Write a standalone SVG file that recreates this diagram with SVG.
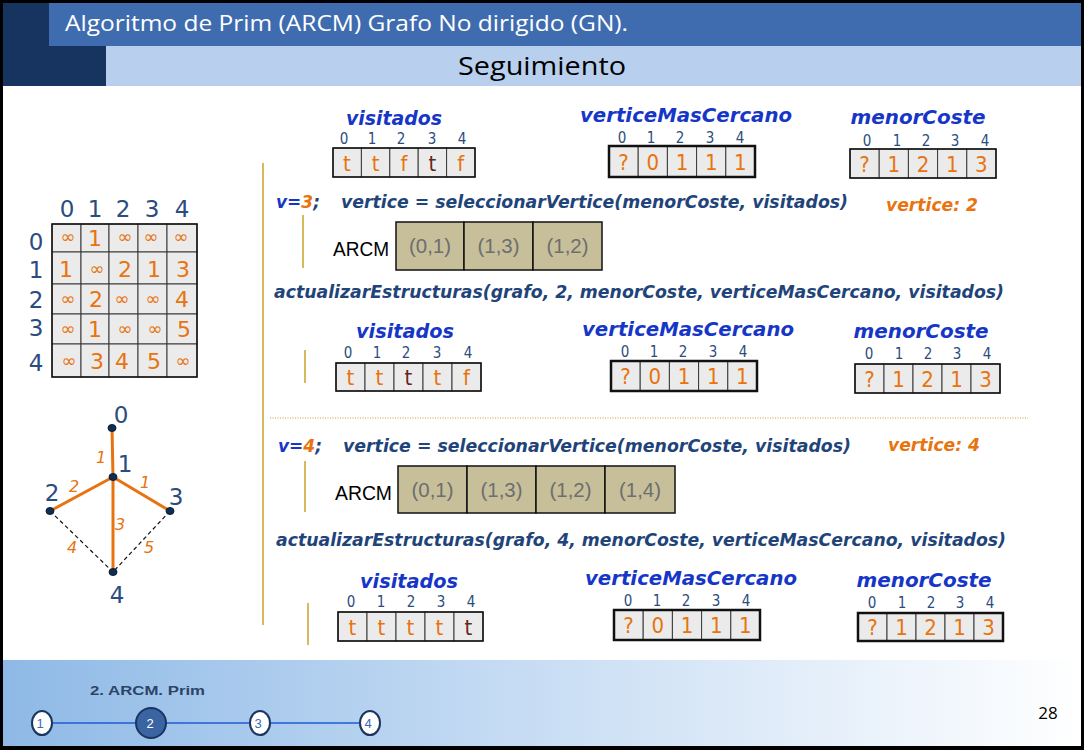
<svg xmlns="http://www.w3.org/2000/svg" width="1084" height="750" viewBox="0 0 1084 750">
<defs>
<linearGradient id="foot" x1="0" y1="0" x2="1" y2="0">
<stop offset="0" stop-color="#8EB9E6"/>
<stop offset="0.45" stop-color="#C3DAF3"/>
<stop offset="1" stop-color="#FFFFFF"/>
</linearGradient>
<style>
.hdr{font-family:"Open Sans","Liberation Sans",sans-serif}
.ttl{font-family:"DejaVu Sans",sans-serif;font-weight:bold;font-style:italic;fill:#1636C8;font-size:20px;text-anchor:middle}
.code{font-family:"DejaVu Sans",sans-serif;font-weight:bold;font-style:italic;fill:#1F4479;font-size:17px}
.vo{font-family:"DejaVu Sans",sans-serif;font-weight:bold;font-style:italic;fill:#E8730F;font-size:17px}
.idx{font-family:"DejaVu Sans Condensed","DejaVu Sans",sans-serif;font-stretch:condensed;fill:#2B4C7E;font-size:15px;text-anchor:middle}
.val{font-family:"DejaVu Sans Condensed","DejaVu Sans",sans-serif;font-stretch:condensed;fill:#E8730F;font-size:22px;text-anchor:middle}
.dk{fill:#6A2418}
.cell{fill:#EBEBEB;stroke:#3A3A3A;stroke-width:1}
.out{fill:none;stroke:#111;stroke-width:1.5}
.out2{fill:none;stroke:#111;stroke-width:2.5}
.arc{fill:#C6BF9A;stroke:#111;stroke-width:1.5}
.arct{font-family:"Liberation Sans",sans-serif;fill:#6E6E6E;font-size:21px;text-anchor:middle}
.arcl{font-family:"Liberation Sans",sans-serif;fill:#000;font-size:21px}
.gold{stroke:#C9A227;stroke-width:1.5;fill:none}
.mh{font-family:"DejaVu Sans",sans-serif;fill:#2B4C7E;font-size:23px;text-anchor:middle}
.mv{font-family:"DejaVu Sans",sans-serif;fill:#E8730F;font-size:22px;text-anchor:middle}
.inf{font-family:"DejaVu Sans",sans-serif;fill:#E8730F;font-size:18px;text-anchor:middle}
.nd{fill:#0F2E50;stroke:#0A1E36;stroke-width:1}
.oe{stroke:#E8730F;stroke-width:3;fill:none}
.de{stroke:#111;stroke-width:1.2;stroke-dasharray:4 3;fill:none}
.nl{font-family:"DejaVu Sans",sans-serif;fill:#2B4C7E;font-size:23px;text-anchor:middle}
.wl{font-family:"DejaVu Sans",sans-serif;font-style:italic;fill:#E8730F;font-size:16px;text-anchor:middle}
</style>
</defs>

<!-- frame -->
<rect x="0" y="0" width="1084" height="750" fill="#000"/>
<rect x="3" y="3" width="1078" height="743" fill="#FFFFFF"/>

<!-- header -->
<g id="header">
<rect x="3" y="3" width="103" height="83" fill="#17335F"/>
<rect x="49" y="3" width="1032" height="43" fill="#3F6CAF"/>
<rect x="106" y="46" width="975" height="40" fill="#B9CFEE"/>
<text class="hdr" x="65" y="31" font-size="21" fill="#FFFFFF" textLength="563" lengthAdjust="spacingAndGlyphs">Algoritmo de Prim (ARCM) Grafo No dirigido (GN).</text>
<text class="hdr" x="458" y="75" font-size="26" fill="#000" textLength="168" lengthAdjust="spacingAndGlyphs">Seguimiento</text>
</g>

<!-- footer -->
<g id="footer">
<rect x="3" y="660" width="1078" height="86" fill="url(#foot)"/>
<text x="90" y="695" font-family="Liberation Sans, sans-serif" font-weight="bold" font-size="13" fill="#2B4468" textLength="115" lengthAdjust="spacingAndGlyphs">2. ARCM. Prim</text>
<line x1="42" y1="723" x2="370" y2="723" stroke="#1E5BD6" stroke-width="1.5"/>
<ellipse cx="42" cy="723" rx="10" ry="12" fill="#FFF" stroke="#1A3560" stroke-width="2"/>
<ellipse cx="151" cy="723" rx="15" ry="15" fill="#3B64A3" stroke="#1A3560" stroke-width="2"/>
<ellipse cx="260" cy="723" rx="10" ry="12" fill="#FFF" stroke="#1A3560" stroke-width="2"/>
<ellipse cx="370" cy="723" rx="10" ry="12" fill="#FFF" stroke="#1A3560" stroke-width="2"/>
<text x="40" y="728" font-family="Liberation Sans, sans-serif" font-size="13" fill="#3A6AB8" text-anchor="middle">1</text>
<text x="150" y="728" font-family="Liberation Sans, sans-serif" font-size="13" fill="#FFF" text-anchor="middle">2</text>
<text x="258" y="728" font-family="Liberation Sans, sans-serif" font-size="13" fill="#3A6AB8" text-anchor="middle">3</text>
<text x="368" y="728" font-family="Liberation Sans, sans-serif" font-size="13" fill="#3A6AB8" text-anchor="middle">4</text>
<text x="1048" y="719" font-family="Open Sans, Liberation Sans, sans-serif" font-size="17" fill="#000" text-anchor="middle">28</text>
</g>

<!-- matrix -->
<g id="matrix">
<text class="mh" x="67" y="217">0</text><text class="mh" x="95" y="217">1</text><text class="mh" x="123" y="217">2</text><text class="mh" x="152" y="217">3</text><text class="mh" x="182" y="217">4</text>
<text class="mh" x="36" y="250">0</text><text class="mh" x="36" y="278">1</text><text class="mh" x="36" y="308">2</text><text class="mh" x="36" y="336">3</text><text class="mh" x="36" y="371">4</text>
<g>
<rect class="cell" x="52" y="224" width="29" height="28"/><rect class="cell" x="81" y="224" width="28" height="28"/><rect class="cell" x="109" y="224" width="29" height="28"/><rect class="cell" x="138" y="224" width="29" height="28"/><rect class="cell" x="167" y="224" width="30" height="28"/>
<rect class="cell" x="52" y="252" width="29" height="32"/><rect class="cell" x="81" y="252" width="28" height="32"/><rect class="cell" x="109" y="252" width="29" height="32"/><rect class="cell" x="138" y="252" width="29" height="32"/><rect class="cell" x="167" y="252" width="30" height="32"/>
<rect class="cell" x="52" y="284" width="29" height="30"/><rect class="cell" x="81" y="284" width="28" height="30"/><rect class="cell" x="109" y="284" width="29" height="30"/><rect class="cell" x="138" y="284" width="29" height="30"/><rect class="cell" x="167" y="284" width="30" height="30"/>
<rect class="cell" x="52" y="314" width="29" height="30"/><rect class="cell" x="81" y="314" width="28" height="30"/><rect class="cell" x="109" y="314" width="29" height="30"/><rect class="cell" x="138" y="314" width="29" height="30"/><rect class="cell" x="167" y="314" width="30" height="30"/>
<rect class="cell" x="52" y="344" width="29" height="33"/><rect class="cell" x="81" y="344" width="28" height="33"/><rect class="cell" x="109" y="344" width="29" height="33"/><rect class="cell" x="138" y="344" width="29" height="33"/><rect class="cell" x="167" y="344" width="30" height="33"/>
<rect x="52" y="224" width="145" height="153" fill="none" stroke="#111" stroke-width="1.5"/>
</g>
<text class="inf" x="68" y="243">∞</text><text class="mv" x="95" y="246">1</text><text class="inf" x="125" y="243">∞</text><text class="inf" x="151" y="243">∞</text><text class="inf" x="181" y="243">∞</text>
<text class="mv" x="66" y="277">1</text><text class="inf" x="97" y="275">∞</text><text class="mv" x="125" y="277">2</text><text class="mv" x="154" y="277">1</text><text class="mv" x="183" y="277">3</text>
<text class="inf" x="68" y="305">∞</text><text class="mv" x="96" y="307">2</text><text class="inf" x="122" y="305">∞</text><text class="inf" x="153" y="305">∞</text><text class="mv" x="182" y="307">4</text>
<text class="inf" x="68" y="335">∞</text><text class="mv" x="95" y="337">1</text><text class="inf" x="125" y="335">∞</text><text class="inf" x="155" y="335">∞</text><text class="mv" x="184" y="337">5</text>
<text class="inf" x="69" y="367">∞</text><text class="mv" x="97" y="369">3</text><text class="mv" x="122" y="369">4</text><text class="mv" x="154" y="369">5</text><text class="inf" x="183" y="367">∞</text>
</g>

<!-- graph -->
<g id="graph-edges">
<line class="oe" x1="112" y1="428" x2="113" y2="477"/>
<line class="oe" x1="113" y1="477" x2="50" y2="511"/>
<line class="oe" x1="113" y1="477" x2="170" y2="511"/>
<line class="oe" x1="113" y1="477" x2="113" y2="572"/>
<line class="de" x1="50" y1="511" x2="113" y2="572"/>
<line class="de" x1="170" y1="511" x2="113" y2="572"/>
<text class="wl" x="101" y="463">1</text>
<text class="wl" x="74" y="492">2</text>
<text class="wl" x="145" y="488">1</text>
<text class="wl" x="120" y="530">3</text>
<text class="wl" x="72" y="553">4</text>
<text class="wl" x="149" y="553">5</text>
</g>
<g id="node-0"><ellipse class="nd" cx="112" cy="428" rx="4" ry="3.5"/><text class="nl" x="121" y="423">0</text></g>
<g id="node-1"><ellipse class="nd" cx="113" cy="477" rx="4" ry="3.5"/><text class="nl" x="125" y="472">1</text></g>
<g id="node-2"><ellipse class="nd" cx="50" cy="511" rx="4" ry="3.5"/><text class="nl" x="52" y="501">2</text></g>
<g id="node-3"><ellipse class="nd" cx="170" cy="511" rx="4" ry="3.5"/><text class="nl" x="176" y="505">3</text></g>
<g id="node-4"><ellipse class="nd" cx="113" cy="572" rx="4" ry="3.5"/><text class="nl" x="117" y="603">4</text></g>

<!-- separators -->
<g id="separators">
<line class="gold" x1="263" y1="163" x2="263" y2="625"/>
<line class="gold" x1="303" y1="215" x2="303" y2="268"/>
<line class="gold" x1="305" y1="350" x2="305" y2="383"/>
<line class="gold" x1="305" y1="461" x2="305" y2="512"/>
<line class="gold" x1="308" y1="603" x2="308" y2="645"/>
<line x1="270" y1="418" x2="1028" y2="418" stroke="#C9A227" stroke-width="1.2" stroke-dasharray="1 1.5"/>
</g>

<!-- top arrays -->
<g id="visitados-1">
<text class="ttl" x="394" y="125" textLength="96" lengthAdjust="spacingAndGlyphs">visitados</text>
<text class="idx" x="344" y="144">0</text><text class="idx" x="372" y="144">1</text><text class="idx" x="401" y="144">2</text><text class="idx" x="432" y="144">3</text><text class="idx" x="462" y="144">4</text>
<rect class="cell" x="333" y="148" width="28.4" height="29"/><rect class="cell" x="361.4" y="148" width="28.4" height="29"/><rect class="cell" x="389.8" y="148" width="28.4" height="29"/><rect class="cell" x="418.2" y="148" width="28.4" height="29"/><rect class="cell" x="446.6" y="148" width="28.4" height="29"/>
<rect class="out" x="333" y="148" width="142" height="29"/>
<text class="val" x="347" y="171">t</text><text class="val" x="375.6" y="171">t</text><text class="val" x="404" y="171">f</text><text class="val dk" x="432.4" y="171">t</text><text class="val" x="460.8" y="171">f</text>
</g>
<g id="vmc-1">
<text class="ttl" x="686" y="122" textLength="212" lengthAdjust="spacingAndGlyphs">verticeMasCercano</text>
<text class="idx" x="622" y="143">0</text><text class="idx" x="651" y="143">1</text><text class="idx" x="680" y="143">2</text><text class="idx" x="710" y="143">3</text><text class="idx" x="740" y="143">4</text>
<rect class="cell" x="609" y="146" width="29.2" height="31"/><rect class="cell" x="638.2" y="146" width="29.2" height="31"/><rect class="cell" x="667.4" y="146" width="29.2" height="31"/><rect class="cell" x="696.6" y="146" width="29.2" height="31"/><rect class="cell" x="725.8" y="146" width="29.2" height="31"/>
<rect class="out2" x="609" y="146" width="146" height="31"/>
<text class="val" x="623.6" y="170">?</text><text class="val" x="652.8" y="170">0</text><text class="val" x="682" y="170">1</text><text class="val" x="711.2" y="170">1</text><text class="val" x="740.4" y="170">1</text>
</g>
<g id="mc-1">
<text class="ttl" x="918" y="124" textLength="135" lengthAdjust="spacingAndGlyphs">menorCoste</text>
<text class="idx" x="867" y="146">0</text><text class="idx" x="897" y="146">1</text><text class="idx" x="926" y="146">2</text><text class="idx" x="955" y="146">3</text><text class="idx" x="985" y="146">4</text>
<rect class="cell" x="850" y="149" width="29.2" height="29"/><rect class="cell" x="879.2" y="149" width="29.2" height="29"/><rect class="cell" x="908.4" y="149" width="29.2" height="29"/><rect class="cell" x="937.6" y="149" width="29.2" height="29"/><rect class="cell" x="966.8" y="149" width="29.2" height="29"/>
<rect class="out" x="850" y="149" width="146" height="29"/>
<text class="val" x="864.6" y="172">?</text><text class="val" x="893.8" y="172">1</text><text class="val" x="923" y="172">2</text><text class="val" x="952.2" y="172">1</text><text class="val" x="981.4" y="172">3</text>
</g>

<!-- step v=3 -->
<g id="step-3">
<text class="code" x="276" y="208"><tspan fill="#1636C8">v=</tspan><tspan fill="#E8730F">3</tspan><tspan>;</tspan></text>
<text class="code" x="341" y="208" textLength="507" lengthAdjust="spacingAndGlyphs">vertice = seleccionarVertice(menorCoste, visitados)</text>
<text class="vo" x="886" y="211" textLength="92" lengthAdjust="spacingAndGlyphs">vertice: 2</text>
</g>
<g id="arcm-1">
<text class="arcl" x="333" y="256" textLength="56" lengthAdjust="spacingAndGlyphs">ARCM</text>
<rect class="arc" x="396" y="222" width="68" height="48"/><rect class="arc" x="464" y="222" width="69" height="48"/><rect class="arc" x="533" y="222" width="69" height="48"/>
<text class="arct" x="430" y="253" textLength="42" lengthAdjust="spacingAndGlyphs">(0,1)</text>
<text class="arct" x="498.5" y="253" textLength="42" lengthAdjust="spacingAndGlyphs">(1,3)</text>
<text class="arct" x="567.5" y="253" textLength="42" lengthAdjust="spacingAndGlyphs">(1,2)</text>
</g>
<g id="update-2">
<text class="code" x="274" y="298" textLength="730" lengthAdjust="spacingAndGlyphs">actualizarEstructuras(grafo, 2, menorCoste, verticeMasCercano, visitados)</text>
</g>

<g id="visitados-2">
<text class="ttl" x="405" y="338" textLength="98" lengthAdjust="spacingAndGlyphs">visitados</text>
<text class="idx" x="348" y="358">0</text><text class="idx" x="377" y="358">1</text><text class="idx" x="406" y="358">2</text><text class="idx" x="437" y="358">3</text><text class="idx" x="468" y="358">4</text>
<rect class="cell" x="336" y="363" width="29" height="28"/><rect class="cell" x="365" y="363" width="29" height="28"/><rect class="cell" x="394" y="363" width="29" height="28"/><rect class="cell" x="423" y="363" width="29" height="28"/><rect class="cell" x="452" y="363" width="29" height="28"/>
<rect class="out" x="336" y="363" width="145" height="28"/>
<text class="val" x="350.5" y="385">t</text><text class="val" x="379.5" y="385">t</text><text class="val dk" x="408.5" y="385">t</text><text class="val" x="437.5" y="385">t</text><text class="val" x="466.5" y="385">f</text>
</g>
<g id="vmc-2">
<text class="ttl" x="688" y="336" textLength="212" lengthAdjust="spacingAndGlyphs">verticeMasCercano</text>
<text class="idx" x="625" y="357">0</text><text class="idx" x="654" y="357">1</text><text class="idx" x="683" y="357">2</text><text class="idx" x="713" y="357">3</text><text class="idx" x="743" y="357">4</text>
<rect class="cell" x="611" y="361" width="29.2" height="30"/><rect class="cell" x="640.2" y="361" width="29.2" height="30"/><rect class="cell" x="669.4" y="361" width="29.2" height="30"/><rect class="cell" x="698.6" y="361" width="29.2" height="30"/><rect class="cell" x="727.8" y="361" width="29.2" height="30"/>
<rect class="out2" x="611" y="361" width="146" height="30"/>
<text class="val" x="625.6" y="384">?</text><text class="val" x="654.8" y="384">0</text><text class="val" x="684" y="384">1</text><text class="val" x="713.2" y="384">1</text><text class="val" x="742.4" y="384">1</text>
</g>
<g id="mc-2">
<text class="ttl" x="921" y="338" textLength="135" lengthAdjust="spacingAndGlyphs">menorCoste</text>
<text class="idx" x="869" y="359">0</text><text class="idx" x="899" y="359">1</text><text class="idx" x="928" y="359">2</text><text class="idx" x="957" y="359">3</text><text class="idx" x="987" y="359">4</text>
<rect class="cell" x="855" y="364" width="29" height="29"/><rect class="cell" x="884" y="364" width="29" height="29"/><rect class="cell" x="913" y="364" width="29" height="29"/><rect class="cell" x="942" y="364" width="29" height="29"/><rect class="cell" x="971" y="364" width="29" height="29"/>
<rect class="out" x="855" y="364" width="145" height="29"/>
<text class="val" x="869.5" y="387">?</text><text class="val" x="898.5" y="387">1</text><text class="val" x="927.5" y="387">2</text><text class="val" x="956.5" y="387">1</text><text class="val" x="985.5" y="387">3</text>
</g>

<!-- step v=4 -->
<g id="step-4">
<text class="code" x="278" y="452"><tspan fill="#1636C8">v=</tspan><tspan fill="#E8730F">4</tspan><tspan>;</tspan></text>
<text class="code" x="343" y="452" textLength="508" lengthAdjust="spacingAndGlyphs">vertice = seleccionarVertice(menorCoste, visitados)</text>
<text class="vo" x="888" y="451" textLength="92" lengthAdjust="spacingAndGlyphs">vertice: 4</text>
</g>
<g id="arcm-2">
<text class="arcl" x="335" y="500" textLength="57" lengthAdjust="spacingAndGlyphs">ARCM</text>
<rect class="arc" x="398" y="466" width="69" height="47"/><rect class="arc" x="467" y="466" width="69" height="47"/><rect class="arc" x="536" y="466" width="69" height="47"/><rect class="arc" x="605" y="466" width="70" height="47"/>
<text class="arct" x="432.5" y="497" textLength="42" lengthAdjust="spacingAndGlyphs">(0,1)</text>
<text class="arct" x="501.5" y="497" textLength="42" lengthAdjust="spacingAndGlyphs">(1,3)</text>
<text class="arct" x="570.5" y="497" textLength="42" lengthAdjust="spacingAndGlyphs">(1,2)</text>
<text class="arct" x="640" y="497" textLength="42" lengthAdjust="spacingAndGlyphs">(1,4)</text>
</g>
<g id="update-4">
<text class="code" x="276" y="546" textLength="730" lengthAdjust="spacingAndGlyphs">actualizarEstructuras(grafo, 4, menorCoste, verticeMasCercano, visitados)</text>
</g>

<g id="visitados-3">
<text class="ttl" x="409" y="588" textLength="98" lengthAdjust="spacingAndGlyphs">visitados</text>
<text class="idx" x="351" y="607">0</text><text class="idx" x="381" y="607">1</text><text class="idx" x="411" y="607">2</text><text class="idx" x="441" y="607">3</text><text class="idx" x="471" y="607">4</text>
<rect class="cell" x="338" y="612" width="29" height="29"/><rect class="cell" x="367" y="612" width="29" height="29"/><rect class="cell" x="396" y="612" width="29" height="29"/><rect class="cell" x="425" y="612" width="29" height="29"/><rect class="cell" x="454" y="612" width="29" height="29"/>
<rect class="out" x="338" y="612" width="145" height="29"/>
<text class="val" x="352.5" y="635">t</text><text class="val" x="381.5" y="635">t</text><text class="val" x="410.5" y="635">t</text><text class="val" x="439.5" y="635">t</text><text class="val dk" x="468.5" y="635">t</text>
</g>
<g id="vmc-3">
<text class="ttl" x="691" y="585" textLength="212" lengthAdjust="spacingAndGlyphs">verticeMasCercano</text>
<text class="idx" x="628" y="606">0</text><text class="idx" x="657" y="606">1</text><text class="idx" x="686" y="606">2</text><text class="idx" x="716" y="606">3</text><text class="idx" x="746" y="606">4</text>
<rect class="cell" x="614" y="610" width="29.2" height="30"/><rect class="cell" x="643.2" y="610" width="29.2" height="30"/><rect class="cell" x="672.4" y="610" width="29.2" height="30"/><rect class="cell" x="701.6" y="610" width="29.2" height="30"/><rect class="cell" x="730.8" y="610" width="29.2" height="30"/>
<rect class="out2" x="614" y="610" width="146" height="30"/>
<text class="val" x="628.6" y="633">?</text><text class="val" x="657.8" y="633">0</text><text class="val" x="687" y="633">1</text><text class="val" x="716.2" y="633">1</text><text class="val" x="745.4" y="633">1</text>
</g>
<g id="mc-3">
<text class="ttl" x="924" y="587" textLength="135" lengthAdjust="spacingAndGlyphs">menorCoste</text>
<text class="idx" x="872" y="608">0</text><text class="idx" x="902" y="608">1</text><text class="idx" x="931" y="608">2</text><text class="idx" x="960" y="608">3</text><text class="idx" x="990" y="608">4</text>
<rect class="cell" x="858" y="613" width="29" height="28"/><rect class="cell" x="887" y="613" width="29" height="28"/><rect class="cell" x="916" y="613" width="29" height="28"/><rect class="cell" x="945" y="613" width="29" height="28"/><rect class="cell" x="974" y="613" width="29" height="28"/>
<rect class="out2" x="858" y="613" width="145" height="28"/>
<text class="val" x="872.5" y="635">?</text><text class="val" x="901.5" y="635">1</text><text class="val" x="930.5" y="635">2</text><text class="val" x="959.5" y="635">1</text><text class="val" x="988.5" y="635">3</text>
</g>
</svg>
